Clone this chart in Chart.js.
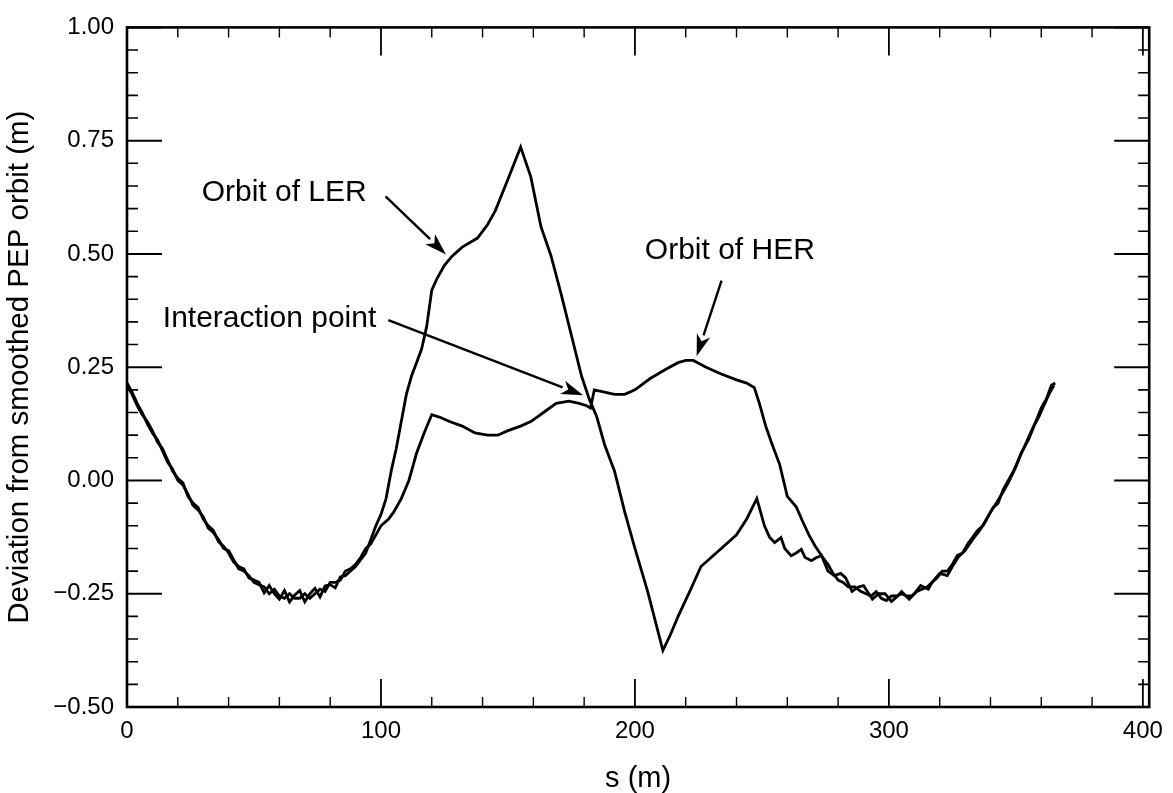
<!DOCTYPE html>
<html>
<head>
<meta charset="utf-8">
<title>Deviation from smoothed PEP orbit</title>
<script src="https://cdn.jsdelivr.net/npm/chart.js@4.4.1/dist/chart.umd.min.js"></script>
<style>
  html, body { margin: 0; padding: 0; background: #fff; }
  #orbitChart { display: block; }
</style>
</head>
<body>
<canvas id="orbitChart" width="1173" height="793"></canvas>
<script>
// Low energy ring: position along the ring s (m) and deviation (m)
const lerS = [
  0, 2, 4, 6, 8, 10, 12, 14, 16, 18, 20, 22, 24, 26, 28, 30, 32, 34, 36, 38,
  40, 42, 44, 46, 48, 50, 52, 54, 56, 58, 60, 62, 64, 66, 68, 70, 72, 74, 76, 78,
  80, 82, 84, 86, 88, 90, 92, 94, 96, 98, 100, 102, 104, 106, 108, 110, 112, 114, 116, 118,
  120, 122, 125, 128, 132, 138, 142, 145, 150, 155, 159, 163, 167, 171, 175, 179, 182, 185, 188, 192,
  196, 200, 205, 208, 211, 214, 217, 222, 226, 229, 234, 240, 244, 248, 251, 253, 255, 257.5, 259, 261.5,
  263.5, 265.5, 267, 269.5, 271.5, 273.5, 276, 278.5, 281, 283, 285.5, 288, 290, 293.5, 296, 298.5, 301, 303.5, 305, 308,
  310, 312.5, 315.5, 317, 320, 323, 325, 327.5, 330, 333, 335.5, 338, 340, 342.5, 345, 347, 350, 352, 355, 357.5,
  360, 362, 364, 365.5
];
const lerDev = [
  0.21, 0.19, 0.165, 0.145, 0.13, 0.11, 0.085, 0.07, 0.045, 0.02, 0.005, -0.005, -0.035, -0.05, -0.06, -0.085, -0.1, -0.11, -0.135, -0.145,
  -0.16, -0.18, -0.19, -0.195, -0.215, -0.22, -0.225, -0.248, -0.232, -0.25, -0.262, -0.243, -0.268, -0.253, -0.243, -0.268, -0.25, -0.238, -0.257, -0.233,
  -0.23, -0.237, -0.213, -0.21, -0.2, -0.19, -0.175, -0.16, -0.13, -0.1, -0.075, -0.04, 0.02, 0.07, 0.13, 0.19, 0.23, 0.26, 0.29, 0.34,
  0.42, 0.445, 0.475, 0.495, 0.515, 0.535, 0.565, 0.595, 0.665, 0.736, 0.67, 0.56, 0.495, 0.41, 0.32, 0.23, 0.18, 0.14, 0.08, 0.02,
  -0.07, -0.15, -0.245, -0.31, -0.375, -0.34, -0.3, -0.24, -0.19, -0.175, -0.15, -0.12, -0.085, -0.04, -0.1, -0.125, -0.137, -0.126, -0.15, -0.166,
  -0.16, -0.152, -0.17, -0.177, -0.17, -0.166, -0.2, -0.21, -0.205, -0.215, -0.245, -0.235, -0.232, -0.262, -0.25, -0.25, -0.267, -0.255, -0.245, -0.262,
  -0.25, -0.232, -0.24, -0.225, -0.205, -0.21, -0.19, -0.168, -0.155, -0.13, -0.112, -0.09, -0.07, -0.048, -0.025, -0.005, 0.03, 0.06, 0.09, 0.125,
  0.16, 0.18, 0.21, 0.215
];

// High energy ring
const herS = [
  0, 2, 4, 6, 8, 10, 12, 14, 16, 18, 20, 22, 24, 26, 28, 30, 32, 34, 36, 38,
  40, 42, 44, 46, 48, 50, 52, 54, 56, 58, 60, 62, 64, 66, 68, 70, 72, 74, 76, 78,
  80, 82, 84, 86, 88, 90, 92, 94, 96, 98, 100, 103, 105, 108, 111, 114, 117, 120, 123, 127,
  132, 137, 142, 146, 150, 155, 159, 164, 169, 174, 178, 181, 182.5, 184, 188, 192, 196, 200, 206, 212,
  217, 220, 223, 228, 234, 240, 244, 247, 249, 251.5, 254, 257, 260, 263.5, 266, 268.5, 271, 274, 276, 278,
  280, 282, 284, 286.5, 289, 291, 293, 295, 297, 299, 301, 303, 305, 307, 309, 311, 313, 315, 317, 319,
  321, 323, 325, 327, 329, 331, 333, 335, 337, 339, 341, 343, 345, 347, 349, 351, 353, 355, 357, 359,
  361, 363, 365
];
const herDev = [
  0.215, 0.195, 0.17, 0.15, 0.125, 0.105, 0.09, 0.065, 0.04, 0.025, 0.0, -0.01, -0.03, -0.055, -0.065, -0.08, -0.105, -0.115, -0.13, -0.15,
  -0.155, -0.175, -0.195, -0.2, -0.21, -0.225, -0.23, -0.235, -0.25, -0.24, -0.255, -0.26, -0.25, -0.26, -0.26, -0.25, -0.26, -0.25, -0.24, -0.245,
  -0.225, -0.225, -0.22, -0.2, -0.195, -0.185, -0.17, -0.15, -0.14, -0.12, -0.1, -0.085, -0.07, -0.04, 0.0, 0.06, 0.105, 0.145, 0.14, 0.13,
  0.12, 0.105, 0.1, 0.1, 0.11, 0.12, 0.13, 0.15, 0.17, 0.175, 0.17, 0.165, 0.16, 0.2, 0.195, 0.19, 0.19, 0.2, 0.225, 0.245,
  0.26, 0.265, 0.265, 0.25, 0.235, 0.222, 0.215, 0.205, 0.17, 0.12, 0.08, 0.035, -0.035, -0.058, -0.09, -0.12, -0.145, -0.17, -0.185, -0.205,
  -0.22, -0.225, -0.235, -0.235, -0.245, -0.25, -0.255, -0.245, -0.26, -0.265, -0.255, -0.255, -0.25, -0.255, -0.255, -0.245, -0.24, -0.235, -0.225, -0.215,
  -0.2, -0.2, -0.185, -0.165, -0.16, -0.14, -0.125, -0.11, -0.1, -0.08, -0.06, -0.05, -0.02, 0.0, 0.02, 0.045, 0.07, 0.095, 0.12, 0.14,
  0.165, 0.19, 0.21
];

const xTickValues = [0, 100, 200, 300, 400];
const yTickValues = [-0.5, -0.25, 0, 0.25, 0.5, 0.75, 1.0];
const xMinorStep = 20;
const yMinorStep = 0.05;

// callouts in data units: label anchor (left, middle), arrow tail and arrow tip
const callouts = [
  { text: 'Orbit of LER', at: [29.4, 0.635], from: [101.8, 0.627], to: [125.6, 0.499] },
  { text: 'Interaction point', at: [14.1, 0.356], from: [102.9, 0.354], to: [179.6, 0.188] },
  { text: 'Orbit of HER', at: [203.9, 0.506], from: [234.1, 0.441], to: [224.3, 0.274] }
];

const FONT = "'Liberation Sans', Arial, Helvetica, sans-serif";

function toPoints(xs, ys) {
  return xs.map((x, i) => ({ x: x, y: ys[i] }));
}

function isMajor(v, list) {
  return list.some(t => Math.abs(t - v) < 1e-6);
}

// box round the plot with inward ticks on all four sides, plus the callouts
const frameAndNotes = {
  id: 'frameAndNotes',
  afterDatasetsDraw(chart) {
    const { ctx, chartArea: a, scales: { x, y } } = chart;
    ctx.save();
    ctx.strokeStyle = '#000';
    ctx.fillStyle = '#000';
    ctx.lineCap = 'butt';

    // x ticks, bottom and top
    for (let i = 0; i * xMinorStep <= x.max; i++) {
      const v = i * xMinorStep;
      const px = x.getPixelForValue(v);
      const major = isMajor(v, xTickValues);
      const len = major ? 28 : 10;
      ctx.lineWidth = major ? 1.8 : 1.4;
      ctx.beginPath();
      ctx.moveTo(px, a.bottom);
      ctx.lineTo(px, a.bottom - len);
      ctx.moveTo(px, a.top);
      ctx.lineTo(px, a.top + len);
      ctx.stroke();
    }

    // y ticks, left and right
    for (let i = Math.round(y.min / yMinorStep); i * yMinorStep <= y.max + 1e-9; i++) {
      const v = i * yMinorStep;
      const py = y.getPixelForValue(v);
      const major = isMajor(v, yTickValues);
      const len = major ? 35 : 11;
      ctx.lineWidth = major ? 2 : 1.6;
      ctx.beginPath();
      ctx.moveTo(a.left, py);
      ctx.lineTo(a.left + len, py);
      ctx.moveTo(a.right, py);
      ctx.lineTo(a.right - len, py);
      ctx.stroke();
    }

    ctx.lineWidth = 2.6;
    ctx.strokeRect(a.left, a.top, a.right - a.left, a.bottom - a.top);

    // callout text and arrows
    ctx.font = '30px ' + FONT;
    ctx.textAlign = 'left';
    ctx.textBaseline = 'middle';
    callouts.forEach(c => {
      ctx.fillText(c.text, x.getPixelForValue(c.at[0]), y.getPixelForValue(c.at[1]));
      const x0 = x.getPixelForValue(c.from[0]), y0 = y.getPixelForValue(c.from[1]);
      const x1 = x.getPixelForValue(c.to[0]), y1 = y.getPixelForValue(c.to[1]);
      const ang = Math.atan2(y1 - y0, x1 - x0);
      const headLen = 22, headHalf = 7;
      const bx = x1 - headLen * Math.cos(ang), by = y1 - headLen * Math.sin(ang);
      ctx.lineWidth = 2.4;
      ctx.beginPath();
      ctx.moveTo(x0, y0);
      ctx.lineTo(bx, by);
      ctx.stroke();
      ctx.beginPath();
      ctx.moveTo(x1, y1);
      ctx.lineTo(bx + headHalf * Math.sin(ang), by - headHalf * Math.cos(ang));
      ctx.lineTo(x1 - (headLen - 6) * Math.cos(ang), y1 - (headLen - 6) * Math.sin(ang));
      ctx.lineTo(bx - headHalf * Math.sin(ang), by + headHalf * Math.cos(ang));
      ctx.closePath();
      ctx.fill();
    });
    ctx.restore();
  }
};

const lineStyle = {
  borderColor: '#000',
  borderWidth: 2.8,
  pointRadius: 0,
  tension: 0,
  fill: false
};

new Chart(document.getElementById('orbitChart'), {
  type: 'line',
  data: {
    datasets: [
      Object.assign({ label: 'Orbit of LER', data: toPoints(lerS, lerDev) }, lineStyle),
      Object.assign({ label: 'Orbit of HER', data: toPoints(herS, herDev) }, lineStyle)
    ]
  },
  options: {
    responsive: false,
    animation: false,
    layout: { padding: { top: 15, right: 18, left: 0, bottom: 0 } },
    plugins: {
      legend: { display: false },
      tooltip: { enabled: false }
    },
    scales: {
      x: {
        type: 'linear',
        min: 0,
        max: 402.5,
        grid: { display: false, drawTicks: false },
        border: { display: false },
        afterBuildTicks: s => { s.ticks = xTickValues.map(v => ({ value: v })); },
        afterFit: s => { s.height = 86; },
        ticks: {
          color: '#000',
          font: { family: FONT, size: 24 },
          padding: 10,
          maxRotation: 0,
          autoSkip: false,
          callback: v => String(v)
        },
        title: {
          display: true,
          text: 's (m)',
          color: '#000',
          font: { family: FONT, size: 29, lineHeight: 1 },
          padding: { top: 0, bottom: 0 }
        }
      },
      y: {
        type: 'linear',
        min: -0.5,
        max: 1.0,
        grid: { display: false, drawTicks: false },
        border: { display: false },
        afterBuildTicks: s => { s.ticks = yTickValues.map(v => ({ value: v })); },
        afterFit: s => { s.width = 127; },
        ticks: {
          color: '#000',
          font: { family: FONT, size: 24 },
          padding: 13,
          autoSkip: false,
          callback: v => (v < 0 ? '\u2212' : '') + Math.abs(v).toFixed(2)
        },
        title: {
          display: true,
          text: 'Deviation from smoothed PEP orbit (m)',
          color: '#000',
          font: { family: FONT, size: 29.5, lineHeight: 1 },
          padding: { top: 5, bottom: 0 }
        }
      }
    }
  },
  plugins: [frameAndNotes]
});
</script>
</body>
</html>
